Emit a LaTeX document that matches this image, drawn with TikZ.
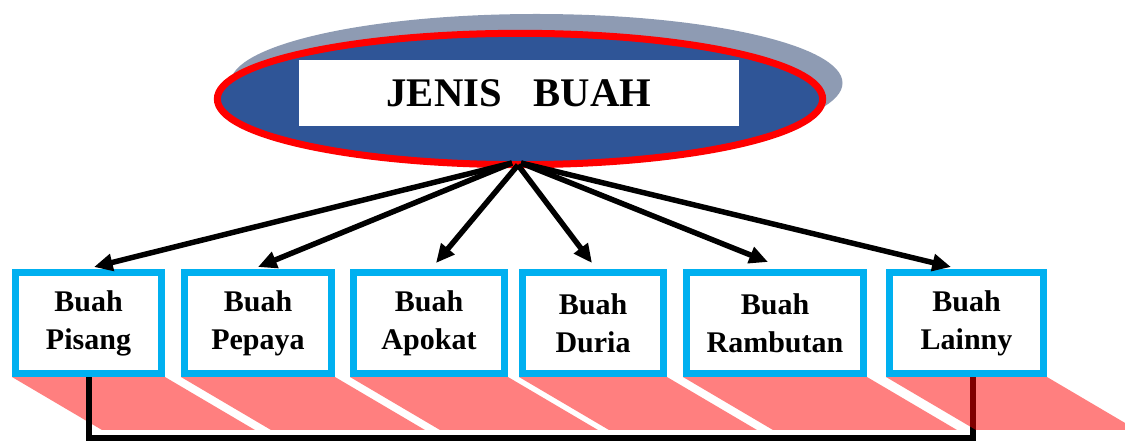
\documentclass[tikz,border=0pt]{standalone}
\usepackage{fontspec}
\setmainfont{Liberation Serif}
\usetikzlibrary{arrows.meta,shapes.geometric}
\definecolor{capblue}{HTML}{2F5597}
\definecolor{capshade}{HTML}{8E9BB3}
\definecolor{boxcyan}{HTML}{00B0F0}
\pgfdeclarelayer{back}
\pgfsetlayers{back,main}
\begin{document}
\begin{tikzpicture}[x=0.75pt,y=-0.75pt,
  fruit/.style={draw=boxcyan, line width=5.25pt, fill=white, inner sep=0pt,
    minimum height=75.75pt, align=center,
    font=\fontsize{22.5}{28.5}\selectfont\bfseries},
  headoval/.style={ellipse, draw=red, line width=5.25pt, fill=capblue,
    inner sep=0pt, minimum width=454pt, minimum height=98.5pt},
  headlabel/.style={fill=white, inner sep=0pt, minimum width=330pt,
    minimum height=49.5pt, font=\fontsize{30.5}{36}\selectfont\bfseries},
  arr/.style={line width=4.1pt, -{Triangle[length=14pt,width=12.5pt]}},
  link/.style={line width=4.5pt, line join=miter},
  band/.style={fill=red, opacity=0.5}]
\useasboundingbox (0,0) rectangle (1125,441);

% shadow and heading oval
\fill[capshade] (536.5,83) ellipse [x radius=229.5pt, y radius=51.75pt];
\node[headoval] (head) at (520,99) {};
\node[headlabel] (title) at (519,93) {JENIS\hspace{24pt}BUAH};

% fruit boxes
\node[fruit, minimum width=109.5pt]  (b1) at (88.5,323) {Buah\\Pisang};
\node[fruit, minimum width=110.25pt] (b2) at (258,323)  {Buah\\Pepaya};
\node[fruit, minimum width=113.25pt] (b3) at (429,323)  {Buah\\Apokat};
\node[fruit, minimum width=105.75pt] (b4) at (593,323)  {Buah\\Duria};
\node[fruit, minimum width=132.75pt] (b5) at (775,323)  {Buah\\Rambutan};
\node[fruit, minimum width=115.5pt]  (b6) at (966.5,323) {Buah\\Lainny};

% slanted bands under the boxes, with the bottom link
\coordinate (c6) at ([shift={(6.5,0)}]b6.south);
\begin{pgfonlayer}{back}
  \draw[link] (b1.south) -- ++(0,61) -| (c6);
  \foreach \b in {b1,b2,b3,b4,b5,b6}
    \fill[band] (\b.south west) -- (\b.south east) -- ++(90,53)
      -- ([shift={(90,53)}]\b.south west) -- cycle;
  \draw[line width=4.5pt] (b1.south) -- ++(0,61);
\end{pgfonlayer}

% arrows from the heading to each box
\coordinate (hubW) at (512,163);
\coordinate (hubC) at (518,165);
\coordinate (hubE) at (521,163);
\draw[arr] (hubW) -- ([shift={(5.5,-2)}]b1.north);
\draw[arr] (hubW) -- ([shift={(0,-2)}]b2.north);
\draw[arr] (hubC) -- ([shift={(7,-6)}]b3.north);
\draw[arr] (hubC) -- ([shift={(-1,-6)}]b4.north);
\draw[arr] (hubE) -- ([shift={(-7,-7)}]b5.north);
\draw[arr] (hubE) -- ([shift={(-15.5,-2)}]b6.north);
\end{tikzpicture}
\end{document}
